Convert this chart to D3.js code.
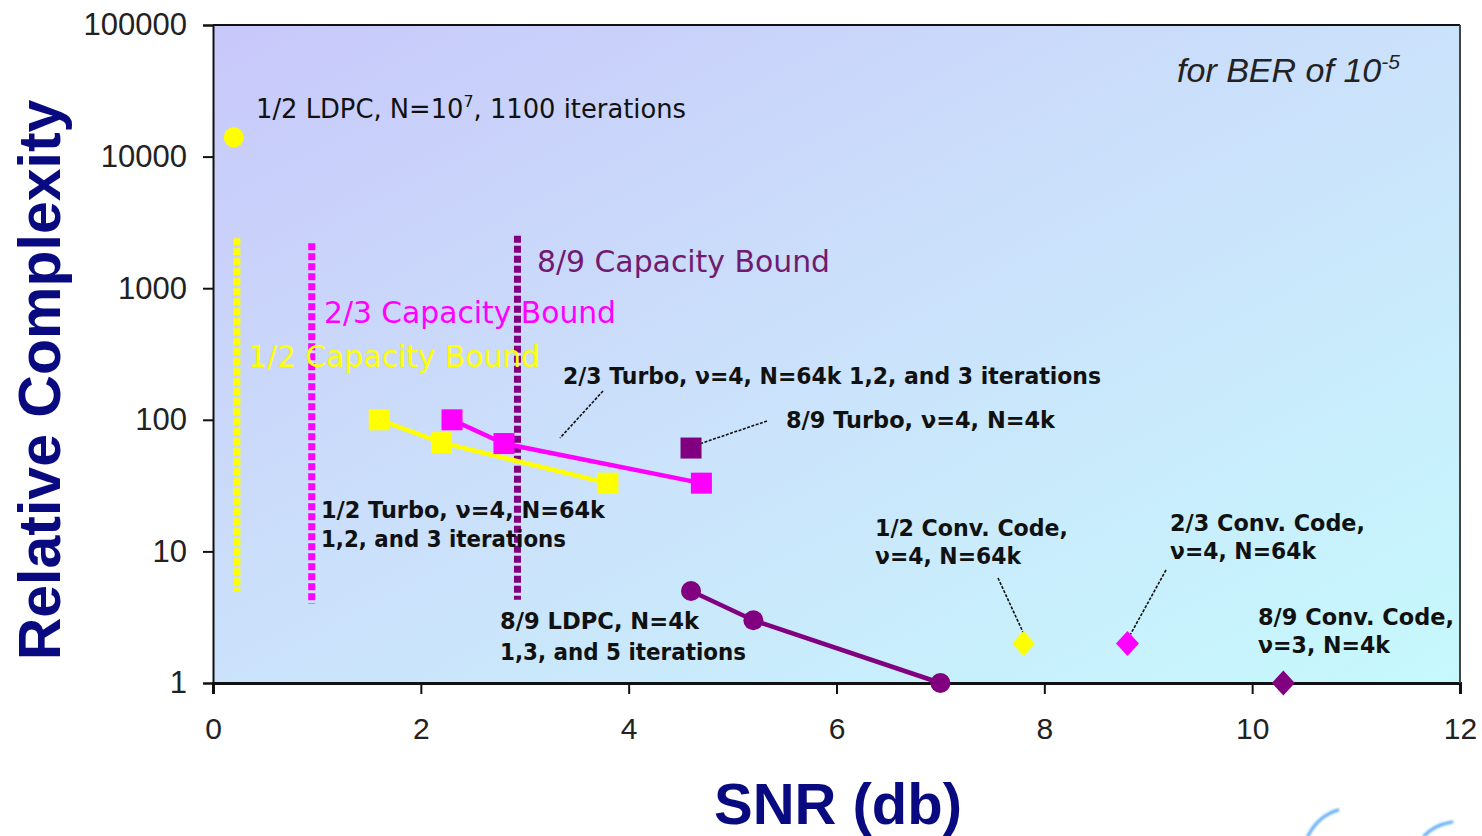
<!DOCTYPE html>
<html>
<head>
<meta charset="utf-8">
<script src="https://cdn.jsdelivr.net/npm/d3@7"></script>
<style>
  html, body { margin: 0; padding: 0; background: #fff; }
  svg { display: block; }
</style>
</head>
<body>
<svg id="chart" width="1482" height="836"></svg>
<script>
// ---- data ----------------------------------------------------------------
const xTickValues = [0, 2, 4, 6, 8, 10, 12];
const yTickValues = [1, 10, 100, 1000, 10000, 100000];

// [SNR (dB), relative complexity]
const ldpcHalf = [[0.2, 14000]];
const turboHalf = [[1.6, 100], [2.2, 67], [3.8, 33]];
const turboTwoThirds = [[2.3, 100], [2.8, 66], [4.7, 33]];
const turboEightNinths = [[4.6, 61]];
const ldpcEightNinths = [[4.6, 5], [5.2, 3], [7.0, 1]];
const convHalf = [[7.8, 2]];
const convTwoThirds = [[8.8, 2]];
const convEightNinths = [[10.3, 1]];

// capacity bounds: [SNR, low complexity, high complexity]
const boundHalf = [0.23, 5, 2400];
const boundTwoThirds = [0.95, 4, 2200];
const boundEightNinths = [2.93, 4.3, 2500];

const boundLabels = ["1/2 Capacity Bound", "2/3 Capacity Bound", "8/9 Capacity Bound"];

// ---- layout ----------------------------------------------------------------
const svg = d3.select("#chart");
const plot = { left: 213, top: 25, right: 1460, bottom: 683 };

const x = d3.scaleLinear().domain([0, 12]).range([plot.left, plot.right]);
const y = d3.scaleLog().domain([1, 100000]).range([plot.bottom, plot.top]);

const YELLOW = "#ffff00", MAGENTA = "#ff00ff", PURPLE = "#800080";
const LABEL_FONT = "'DejaVu Sans', Verdana, sans-serif";
const AXIS_FONT = "'Liberation Sans', Arial, sans-serif";

// background gradient of the plotting area
const defs = svg.append("defs");
const grad = defs.append("linearGradient")
  .attr("id", "bg").attr("x1", 0).attr("y1", 0).attr("x2", 1).attr("y2", 1);
grad.append("stop").attr("offset", 0).attr("stop-color", "#c8c8fa");
grad.append("stop").attr("offset", 0.5).attr("stop-color", "#cbe2fb");
grad.append("stop").attr("offset", 1).attr("stop-color", "#c6f9fd");
defs.append("filter").attr("id", "soft")
  .append("feGaussianBlur").attr("stdDeviation", 1);

svg.append("rect")
  .attr("x", plot.left).attr("y", plot.top)
  .attr("width", plot.right - plot.left).attr("height", plot.bottom - plot.top)
  .attr("fill", "url(#bg)");

// ---- axes ------------------------------------------------------------------
const xAxis = d3.axisBottom(x).tickValues(xTickValues).tickSize(11).tickPadding(24)
  .tickFormat(d3.format("d"));
const gx = svg.append("g").attr("transform", `translate(0,${plot.bottom})`).call(xAxis);
gx.select(".domain").attr("stroke", "#111").attr("stroke-width", 3);
gx.selectAll(".tick line").attr("stroke", "#111").attr("stroke-width", 2);
gx.selectAll(".tick text").attr("font-family", AXIS_FONT).attr("font-size", 30)
  .attr("fill", "#222").attr("dy", "0.71em");

const yAxis = d3.axisLeft(y).tickValues(yTickValues).tickSize(10).tickPadding(16)
  .tickFormat(d3.format("d"));
const gy = svg.append("g").attr("transform", `translate(${plot.left},0)`).call(yAxis);
gy.select(".domain").attr("stroke", "#111").attr("stroke-width", 2);
gy.selectAll(".tick line").attr("stroke", "#111").attr("stroke-width", 2);
gy.selectAll(".tick text").attr("font-family", AXIS_FONT).attr("font-size", 31)
  .attr("fill", "#222");

// top and right frame
svg.append("line").attr("x1", plot.left).attr("x2", plot.right)
  .attr("y1", plot.top).attr("y2", plot.top).attr("stroke", "#111").attr("stroke-width", 2);
svg.append("line").attr("x1", plot.right).attr("x2", plot.right)
  .attr("y1", plot.top).attr("y2", plot.bottom).attr("stroke", "#444").attr("stroke-width", 2);

// axis titles
svg.append("text")
  .attr("transform", "translate(60,380) rotate(-90)")
  .attr("text-anchor", "middle")
  .attr("font-family", AXIS_FONT).attr("font-weight", "bold").attr("font-size", 59)
  .attr("fill", "#0a0a80").text("Relative Complexity");
svg.append("text")
  .attr("x", 838).attr("y", 824).attr("text-anchor", "middle")
  .attr("font-family", AXIS_FONT).attr("font-weight", "bold").attr("font-size", 58)
  .attr("fill", "#0a0a80").text("SNR (db)");

// ---- capacity bounds --------------------------------------------------------
const bounds = [
  { v: boundHalf, color: YELLOW },
  { v: boundTwoThirds, color: MAGENTA },
  { v: boundEightNinths, color: PURPLE }
];
svg.append("g").selectAll("line").data(bounds).join("line")
  .attr("x1", d => x(d.v[0])).attr("x2", d => x(d.v[0]))
  .attr("y1", d => y(d.v[2])).attr("y2", d => y(d.v[1]))
  .attr("stroke", d => d.color).attr("stroke-width", 7)
  .attr("stroke-dasharray", "7,3");

// bound labels
const boundLabelLayout = [
  { text: boundLabels[0], x: 248, y: 367, w: 292, color: YELLOW },
  { text: boundLabels[1], x: 324, y: 323, w: 292, color: MAGENTA },
  { text: boundLabels[2], x: 537, y: 272, w: 293, color: "#701a70" }
];
svg.append("g").selectAll("text").data(boundLabelLayout).join("text")
  .attr("x", d => d.x).attr("y", d => d.y)
  .attr("font-family", LABEL_FONT).attr("font-size", 30)
  .attr("fill", d => d.color)
  .attr("textLength", d => d.w).attr("lengthAdjust", "spacingAndGlyphs")
  .text(d => d.text);

// ---- series ----------------------------------------------------------------
const line = d3.line().x(d => x(d[0])).y(d => y(d[1]));
const lineSeries = [
  { data: turboHalf, color: YELLOW },
  { data: turboTwoThirds, color: MAGENTA },
  { data: ldpcEightNinths, color: PURPLE }
];
svg.append("g").selectAll("path").data(lineSeries).join("path")
  .attr("d", d => line(d.data))
  .attr("fill", "none").attr("stroke", d => d.color).attr("stroke-width", 4.5);

// callout leader lines (drawn before markers)
const callouts = [
  { from: [603, 391], to: [560, 438] },
  { from: [767, 421], to: [x(turboEightNinths[0][0]) + 8, y(turboEightNinths[0][1]) - 4] },
  { from: [998, 578], to: [x(convHalf[0][0]), y(convHalf[0][1]) - 10] },
  { from: [1166, 570], to: [x(convTwoThirds[0][0]) + 3, y(convTwoThirds[0][1]) - 9] }
];
svg.append("g").selectAll("line").data(callouts).join("line")
  .attr("x1", d => d.from[0]).attr("y1", d => d.from[1])
  .attr("x2", d => d.to[0]).attr("y2", d => d.to[1])
  .attr("stroke", "#111").attr("stroke-width", 1.6)
  .attr("stroke-dasharray", "3,1.5");

// markers
const sq = 21;
const squareSeries = [
  ...turboHalf.map(d => ({ d, color: YELLOW })),
  ...turboTwoThirds.map(d => ({ d, color: MAGENTA })),
  ...turboEightNinths.map(d => ({ d, color: PURPLE }))
];
svg.append("g").selectAll("rect").data(squareSeries).join("rect")
  .attr("x", p => x(p.d[0]) - sq / 2).attr("y", p => y(p.d[1]) - sq / 2)
  .attr("width", sq).attr("height", sq).attr("fill", p => p.color);

const circleSeries = [
  ...ldpcHalf.map(d => ({ d, color: YELLOW, r: 10 })),
  ...ldpcEightNinths.map(d => ({ d, color: PURPLE, r: 10 }))
];
svg.append("g").selectAll("circle").data(circleSeries).join("circle")
  .attr("cx", p => x(p.d[0])).attr("cy", p => y(p.d[1]))
  .attr("r", p => p.r).attr("fill", p => p.color);

const diamondSeries = [
  ...convHalf.map(d => ({ d, color: YELLOW })),
  ...convTwoThirds.map(d => ({ d, color: MAGENTA })),
  ...convEightNinths.map(d => ({ d, color: PURPLE }))
];
svg.append("g").selectAll("path").data(diamondSeries).join("path")
  .attr("transform", p => `translate(${x(p.d[0])},${y(p.d[1])})`)
  .attr("d", "M0,-12.5L11.5,0L0,12.5L-11.5,0Z")
  .attr("fill", p => p.color);

// ---- annotations --------------------------------------------------------------
const ldpcLabel = svg.append("text")
  .attr("x", 256).attr("y", 118)
  .attr("font-family", LABEL_FONT).attr("font-size", 26).attr("fill", "#111")
  .attr("textLength", 430).attr("lengthAdjust", "spacingAndGlyphs");
ldpcLabel.append("tspan").text("1/2 LDPC, N=10");
ldpcLabel.append("tspan").attr("font-size", 16).attr("dy", -11).text("7");
ldpcLabel.append("tspan").attr("dy", 11).text(", 1100 iterations");

const boldLabels = [
  { text: "2/3 Turbo, ν=4, N=64k 1,2, and 3 iterations", x: 563, y: 384, w: 538 },
  { text: "8/9 Turbo, ν=4, N=4k", x: 786, y: 428, w: 269 },
  { text: "1/2 Turbo, ν=4, N=64k", x: 321, y: 518, w: 284 },
  { text: "1,2, and 3 iterations", x: 321, y: 547, w: 245 },
  { text: "8/9 LDPC, N=4k", x: 500, y: 629, w: 199 },
  { text: "1,3, and 5 iterations", x: 500, y: 660, w: 246 },
  { text: "1/2 Conv. Code,", x: 875, y: 536, w: 193 },
  { text: "ν=4, N=64k", x: 875, y: 564, w: 146 },
  { text: "2/3 Conv. Code,", x: 1170, y: 531, w: 195 },
  { text: "ν=4, N=64k", x: 1170, y: 559, w: 146 },
  { text: "8/9 Conv. Code,", x: 1258, y: 625, w: 196 },
  { text: "ν=3, N=4k", x: 1258, y: 653, w: 132 }
];
svg.append("g").selectAll("text").data(boldLabels).join("text")
  .attr("x", d => d.x).attr("y", d => d.y)
  .attr("font-family", LABEL_FONT).attr("font-weight", "bold").attr("font-size", 23)
  .attr("fill", "#111")
  .attr("textLength", d => d.w).attr("lengthAdjust", "spacingAndGlyphs")
  .text(d => d.text);

const berLabel = svg.append("text")
  .attr("x", 1177).attr("y", 82)
  .attr("font-family", AXIS_FONT).attr("font-style", "italic").attr("font-size", 34)
  .attr("fill", "#222")
  .attr("textLength", 223).attr("lengthAdjust", "spacingAndGlyphs");
berLabel.append("tspan").text("for BER of 10");
berLabel.append("tspan").attr("font-size", 21).attr("dy", -13).text("-5");

// decorative swooshes in the lower-right corner
const swooshes = [
  "M1308,836 Q1318,816 1338,810",
  "M1424,836 Q1434,825 1452,822"
];
svg.append("g").attr("filter", "url(#soft)").selectAll("path").data(swooshes).join("path")
  .attr("d", d => d).attr("fill", "none")
  .attr("stroke", "#3a9af5").attr("stroke-width", 3).attr("stroke-linecap", "round")
  .attr("opacity", 0.8);
</script>
</body>
</html>
